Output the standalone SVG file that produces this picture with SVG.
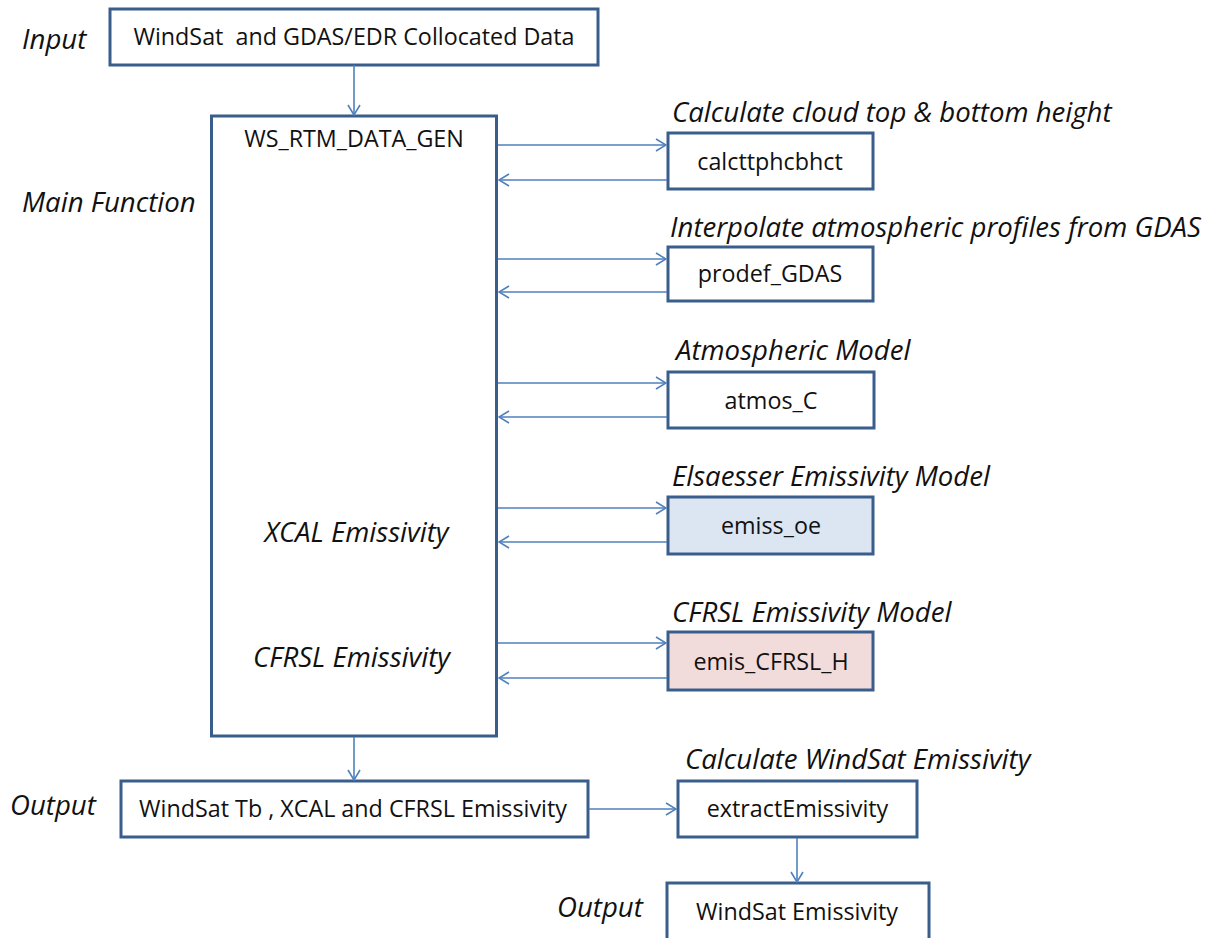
<svg xmlns="http://www.w3.org/2000/svg" width="1215" height="938" viewBox="0 0 1215 938">
<style>
.box{fill:#ffffff;stroke:#3a5e8c;stroke-width:3}
.t{font-family:"Open Sans","Liberation Sans",sans-serif;font-size:23.3px;fill:#111;text-anchor:middle}
.i{font-family:"Open Sans","Liberation Sans",sans-serif;font-size:27.6px;font-style:italic;fill:#111}
.m{text-anchor:middle}
.c{fill:none;stroke:#4f81bd;stroke-width:1.6;marker-end:url(#ah)}
</style>
<defs>
<marker id="ah" viewBox="0 0 12 14" refX="11" refY="7" markerWidth="12" markerHeight="14" markerUnits="userSpaceOnUse" orient="auto">
<path d="M1,1 L11,7 L1,13" fill="none" stroke="#4f81bd" stroke-width="1.6"/>
</marker>
</defs>
<rect width="1215" height="938" fill="#ffffff"/>
<g id="labels">
<text class="i" x="22" y="49">Input</text>
<text class="i" x="22" y="212">Main Function</text>
<text class="i" x="672" y="122">Calculate cloud top &amp; bottom height</text>
<text class="i" x="670" y="237">Interpolate atmospheric profiles from GDAS</text>
<text class="i" x="676" y="360">Atmospheric Model</text>
<text class="i" x="672" y="486">Elsaesser Emissivity Model</text>
<text class="i" x="672" y="622">CFRSL Emissivity Model</text>
<text class="i" x="685" y="769">Calculate WindSat Emissivity</text>
<text class="i" x="10" y="815">Output</text>
<text class="i" x="557" y="917">Output</text>
</g>
<g id="input">
<rect class="box" x="110" y="9" width="488" height="56"/>
<text class="t" x="354" y="45">WindSat&#160; and GDAS/EDR Collocated Data</text>
</g>
<g id="main">
<rect class="box" x="211.5" y="116" width="285" height="620"/>
<text class="t" x="354" y="147">WS_RTM_DATA_GEN</text>
<text class="i m" x="356.5" y="542">XCAL Emissivity</text>
<text class="i m" x="351.5" y="667">CFRSL Emissivity</text>
</g>
<g id="calcttphcbhct">
<rect class="box" x="668" y="133" width="205" height="56"/>
<text class="t" x="770" y="170">calcttphcbhct</text>
</g>
<g id="prodef_GDAS">
<rect class="box" x="668" y="247" width="205" height="54"/>
<text class="t" x="770" y="282">prodef_GDAS</text>
</g>
<g id="atmos_C">
<rect class="box" x="668" y="372" width="206" height="56"/>
<text class="t" x="771" y="409">atmos_C</text>
</g>
<g id="emiss_oe">
<rect class="box" x="668" y="497" width="205" height="57" style="fill:#dce6f2"/>
<text class="t" x="771" y="534">emiss_oe</text>
</g>
<g id="emis_CFRSL_H">
<rect class="box" x="668" y="632" width="205" height="58" style="fill:#f2dcdb"/>
<text class="t" x="771" y="670">emis_CFRSL_H</text>
</g>
<g id="output1">
<rect class="box" x="121" y="781" width="467" height="56"/>
<text class="t" x="353" y="817">WindSat Tb , XCAL and CFRSL Emissivity</text>
</g>
<g id="extractEmissivity">
<rect class="box" x="678" y="781" width="239" height="56"/>
<text class="t" x="797.5" y="817">extractEmissivity</text>
</g>
<g id="output2">
<rect class="box" x="667" y="883" width="262" height="62"/>
<text class="t" x="797" y="920">WindSat Emissivity</text>
</g>
<g id="connectors">
<path class="c" d="M354,65 V115"/>
<path class="c" d="M498,145 H666"/>
<path class="c" d="M667,180 H499"/>
<path class="c" d="M498,259 H666"/>
<path class="c" d="M667,292 H499"/>
<path class="c" d="M498,383 H666"/>
<path class="c" d="M667,417 H499"/>
<path class="c" d="M498,508 H666"/>
<path class="c" d="M667,542 H499"/>
<path class="c" d="M498,643 H666"/>
<path class="c" d="M667,678 H499"/>
<path class="c" d="M354,737 V780"/>
<path class="c" d="M589,809 H676"/>
<path class="c" d="M797,838 V882"/>
</g>
</svg>
